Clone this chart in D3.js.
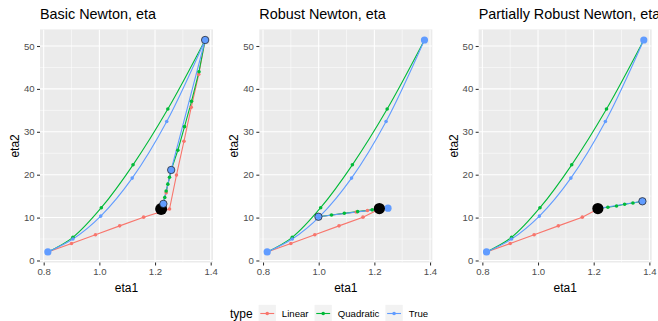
<!DOCTYPE html>
<html>
<head>
<meta charset="utf-8">
<script src="https://cdn.jsdelivr.net/npm/d3@7"></script>
<style>
  body { margin: 0; background: #fff; }
  svg { display: block; }
  text { font-family: "Liberation Sans", Arial, sans-serif; }
</style>
</head>
<body>
<script>
// ---- data ----
const titles = ["Basic Newton, eta", "Robust Newton, eta", "Partially Robust Newton, eta"];
const types = ["Linear", "Quadratic", "True"];
const typeColors = ["#F8766D", "#00BA38", "#619CFF"];
const xTicks = [0.8, 1.0, 1.2, 1.4];
const yTicks = [0, 10, 20, 30, 40, 50];

// shared by all panels: start point to first iterate
const trueCurve = [[0.815, 2.0], [0.905, 5.0], [1.005, 10.35], [1.118, 19.2], [1.242, 32.4], [1.38, 51.4]];
const quadCurve = [[0.815, 2.0], [0.905, 5.4], [1.007, 12.3], [1.121, 22.3], [1.246, 35.3], [1.38, 51.4]];
const linearStart = [[0.815, 2.0], [0.9, 3.95], [0.986, 6.0], [1.073, 8.07], [1.159, 10.1]];
const startPoint = [0.815, 2.0];
const firstIterate = [1.38, 51.4];

// Basic Newton
const basicLinear = [[1.252, 12.0], [1.277, 19.9], [1.304, 27.8], [1.330, 35.7], [1.357, 43.4], [1.38, 51.4]];
const basicLinearTail = [[1.258, 21.1], [1.240, 15.8], [1.230, 13.2]];
const basicQuad = [[1.38, 51.4], [1.358, 44.0], [1.331, 37.1], [1.306, 31.2], [1.282, 25.7], [1.258, 21.1],
  [1.252, 19.4], [1.246, 17.8], [1.240, 16.2], [1.235, 14.7], [1.230, 13.2], [1.224, 12.0]];
const basicTrue = [[1.38, 51.4], [1.258, 21.1], [1.230, 13.2], [1.224, 12.0]];
const basicIterates = [[1.38, 51.4], [1.258, 21.1], [1.230, 13.2]];
const basicPlain = [];
const basicSolution = [1.222, 12.0];

// Robust Newton
const robustLinear = [[1.215, 11.9]];
const robustLinearTail = [[0.999, 10.2], [1.135, 11.3], [1.175, 11.65], [1.218, 12.1]];
const robustQuad = [[0.999, 10.2], [1.046, 10.6], [1.092, 11.0], [1.140, 11.4], [1.192, 11.8], [1.249, 12.2]];
const robustTrue = [[0.999, 10.2], [1.249, 12.2]];
const robustIterates = [[0.999, 10.2]];
const robustPlain = [[1.38, 51.4], [1.249, 12.2]];
const robustSolution = [1.218, 12.1];

// Partially Robust Newton
const partialLinear = [[1.215, 12.0]];
const partialLinearTail = [];
const partialQuad = [[1.215, 12.1], [1.251, 12.4], [1.282, 12.7], [1.311, 13.1], [1.341, 13.4], [1.375, 13.8]];
const partialTrue = [[1.215, 12.1], [1.375, 13.8]];
const partialIterates = [[1.375, 13.8]];
const partialPlain = [[1.38, 51.4]];
const partialSolution = [1.215, 12.1];

const panels = [
  { linear: linearStart.concat(basicLinear), tail: basicLinearTail, quad: basicQuad, tru: basicTrue,
    iterates: basicIterates, plain: basicPlain, solution: basicSolution, solR: 6 },
  { linear: linearStart.concat(robustLinear), tail: robustLinearTail, quad: robustQuad, tru: robustTrue,
    iterates: robustIterates, plain: robustPlain, solution: robustSolution, solR: 5.6 },
  { linear: linearStart.concat(partialLinear), tail: partialLinearTail, quad: partialQuad, tru: partialTrue,
    iterates: partialIterates, plain: partialPlain, solution: partialSolution, solR: 5.6 }
];

// ---- layout ----
const width = 658, height = 321;
const subW = width / 3;
const margin = { left: 40, right: subW - 213, top: 29.4, bottom: height - 262.5 };

const svg = d3.select("body").append("svg")
  .attr("width", width)
  .attr("height", height);

// scales with ggplot-style 5% expansion
const allPts = trueCurve.concat(quadCurve, linearStart, basicLinear, [startPoint, firstIterate]);
const xExt = d3.extent(allPts, d => d[0]);
const yExt = d3.extent(allPts, d => d[1]);
const xPad = (xExt[1] - xExt[0]) * 0.05, yPad = (yExt[1] - yExt[0]) * 0.05;

const x = d3.scaleLinear()
  .domain([xExt[0] - xPad, xExt[1] + xPad])
  .range([margin.left, subW - margin.right]);
const y = d3.scaleLinear()
  .domain([yExt[0] - yPad, yExt[1] + yPad])
  .range([height - margin.bottom, margin.top]);

const line = d3.line().x(d => x(d[0])).y(d => y(d[1]));
const smooth = d3.line().x(d => x(d[0])).y(d => y(d[1])).curve(d3.curveCatmullRom.alpha(0.5));

const xMinor = [0.9, 1.1, 1.3];
const yMinor = [5, 15, 25, 35, 45];

panels.forEach((p, i) => {
  const g = svg.append("g").attr("transform", `translate(${i * subW},0)`);
  const clipId = `clip${i}`;
  g.append("clipPath").attr("id", clipId)
    .append("rect")
    .attr("x", x.range()[0]).attr("y", y.range()[1])
    .attr("width", x.range()[1] - x.range()[0])
    .attr("height", y.range()[0] - y.range()[1]);

  // panel background + grid
  g.append("rect")
    .attr("x", x.range()[0]).attr("y", y.range()[1])
    .attr("width", x.range()[1] - x.range()[0])
    .attr("height", y.range()[0] - y.range()[1])
    .attr("fill", "#EBEBEB");

  const grid = g.append("g").attr("clip-path", `url(#${clipId})`);
  grid.selectAll(".xminor").data(xMinor).join("line")
    .attr("x1", d => x(d)).attr("x2", d => x(d))
    .attr("y1", y.range()[0]).attr("y2", y.range()[1])
    .attr("stroke", "#fff").attr("stroke-width", 0.53);
  grid.selectAll(".yminor").data(yMinor).join("line")
    .attr("y1", d => y(d)).attr("y2", d => y(d))
    .attr("x1", x.range()[0]).attr("x2", x.range()[1])
    .attr("stroke", "#fff").attr("stroke-width", 0.53);
  grid.selectAll(".xmajor").data(xTicks).join("line")
    .attr("x1", d => x(d)).attr("x2", d => x(d))
    .attr("y1", y.range()[0]).attr("y2", y.range()[1])
    .attr("stroke", "#fff").attr("stroke-width", 1.07);
  grid.selectAll(".ymajor").data(yTicks).join("line")
    .attr("y1", d => y(d)).attr("y2", d => y(d))
    .attr("x1", x.range()[0]).attr("x2", x.range()[1])
    .attr("stroke", "#fff").attr("stroke-width", 1.07);

  // axes
  const xAxis = g.append("g")
    .attr("transform", `translate(0,${y.range()[0]})`)
    .call(d3.axisBottom(x).tickValues(xTicks).tickFormat(d3.format(".1f")).tickSize(3).tickPadding(2.4));
  const yAxis = g.append("g")
    .attr("transform", `translate(${x.range()[0]},0)`)
    .call(d3.axisLeft(y).tickValues(yTicks).tickSize(3).tickPadding(2.4));
  [xAxis, yAxis].forEach(a => {
    a.select(".domain").remove();
    a.selectAll(".tick line").attr("stroke", "#333333").attr("stroke-width", 1.07);
    a.selectAll(".tick text").attr("fill", "#4D4D4D").style("font-size", "9.6px")
      .style("font-family", "'Liberation Sans', Arial, sans-serif");
  });

  // marks
  const plot = g.append("g").attr("clip-path", `url(#${clipId})`);
  const lw = 1.1;

  // lines (Linear, Quadratic, True order)
  plot.append("path").attr("d", line(p.linear)).attr("fill", "none")
    .attr("stroke", typeColors[0]).attr("stroke-width", lw);
  if (p.tail.length) plot.append("path").attr("d", line(p.tail)).attr("fill", "none")
    .attr("stroke", typeColors[0]).attr("stroke-width", lw);
  plot.append("path").attr("d", smooth(quadCurve)).attr("fill", "none")
    .attr("stroke", typeColors[1]).attr("stroke-width", lw);
  plot.append("path").attr("d", line(p.quad)).attr("fill", "none")
    .attr("stroke", typeColors[1]).attr("stroke-width", lw);
  plot.append("path").attr("d", smooth(trueCurve)).attr("fill", "none")
    .attr("stroke", typeColors[2]).attr("stroke-width", lw);
  plot.append("path").attr("d", line(p.tru)).attr("fill", "none")
    .attr("stroke", typeColors[2]).attr("stroke-width", lw);

  // small points
  const small = (pts, color) => plot.append("g").selectAll("circle").data(pts).join("circle")
    .attr("cx", d => x(d[0])).attr("cy", d => y(d[1])).attr("r", 1.8).attr("fill", color);
  small(p.linear.slice(1), typeColors[0]);
  small(p.tail.slice(1, -1), typeColors[0]);
  small(quadCurve.slice(1, -1), typeColors[1]);
  small(p.quad.slice(1, -1), typeColors[1]);
  small(trueCurve.slice(1, -1), typeColors[2]);

  // start + plain iterates
  plot.append("g").selectAll("circle").data([startPoint].concat(p.plain)).join("circle")
    .attr("cx", d => x(d[0])).attr("cy", d => y(d[1])).attr("r", 3.6).attr("fill", typeColors[2]);

  // solution
  plot.append("circle")
    .attr("cx", x(p.solution[0])).attr("cy", y(p.solution[1]))
    .attr("r", p.solR).attr("fill", "#000");

  // outlined iterates
  plot.append("g").selectAll("circle").data(p.iterates).join("circle")
    .attr("cx", d => x(d[0])).attr("cy", d => y(d[1])).attr("r", 3.7)
    .attr("fill", typeColors[2]).attr("stroke", "#1a1a1a").attr("stroke-width", 0.7);

  // titles
  g.append("text")
    .attr("x", x.range()[0]).attr("y", 19)
    .style("font-size", "14.4px").attr("fill", "#000")
    .text(titles[i]);
  g.append("text")
    .attr("x", (x.range()[0] + x.range()[1]) / 2).attr("y", 291.5)
    .attr("text-anchor", "middle")
    .style("font-size", "12px").attr("fill", "#000")
    .text("eta1");
  g.append("text")
    .attr("transform", `translate(19,${(y.range()[0] + y.range()[1]) / 2}) rotate(-90)`)
    .attr("text-anchor", "middle")
    .style("font-size", "12px").attr("fill", "#000")
    .text("eta2");
});

// ---- legend ----
const legend = svg.append("g");
const keySize = 17.28, gap = 6, legY = 313.5;
const lt = legend.append("text").attr("y", legY + 4.2).style("font-size", "12px").text("type");
let cx = lt.node().getComputedTextLength() + gap;
types.forEach((t, i) => {
  const k = legend.append("g").attr("transform", `translate(${cx},${legY - keySize / 2})`);
  k.append("rect").attr("width", keySize).attr("height", keySize).attr("fill", "#F2F2F2");
  k.append("line").attr("x1", 1.7).attr("x2", keySize - 1.7)
    .attr("y1", keySize / 2).attr("y2", keySize / 2)
    .attr("stroke", typeColors[i]).attr("stroke-width", 1.1);
  k.append("circle").attr("cx", keySize / 2).attr("cy", keySize / 2).attr("r", 1.8).attr("fill", typeColors[i]);
  cx += keySize + gap;
  const lab = legend.append("text").attr("x", cx).attr("y", legY + 3.4)
    .style("font-size", "9.6px").attr("fill", "#000").text(t);
  cx += lab.node().getComputedTextLength() + (i < types.length - 1 ? gap : 0);
});
legend.attr("transform", `translate(${(width - cx) / 2},0)`);
</script>
</body>
</html>
